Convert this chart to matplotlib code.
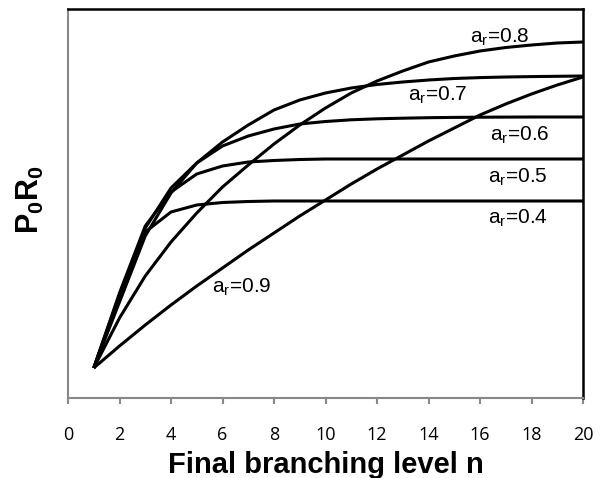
import matplotlib
matplotlib.use('Agg')
import matplotlib.pyplot as plt

plt.rcParams['font.family'] = ['Liberation Sans', 'DejaVu Sans']
plt.rcParams['mathtext.fontset'] = 'custom'
plt.rcParams['mathtext.rm'] = 'Liberation Sans'
plt.rcParams['mathtext.bf'] = 'Liberation Sans:bold'

# branching level n and P0R0 (arbitrary units)
n_levels = list(range(1, 21))
p_ar04 = [30, 103, 166, 186, 193, 195.5, 196.5, 197, 197, 197,
          197, 197, 197, 197, 197, 197, 197, 197, 197, 197]
p_ar05 = [30, 105, 172, 206, 224, 232, 236, 237.5, 238.5, 239,
          239, 239, 239, 239, 239, 239, 239, 239, 239, 239]
p_ar06 = [30, 101, 170, 210, 235, 252, 262, 269, 274, 276.5,
          278.2, 279.2, 279.8, 280.3, 280.6, 280.8, 280.9, 281, 281, 281]
p_ar07 = [30, 96, 162, 205, 235, 256, 273, 288, 298, 305,
          310, 313.5, 316, 318, 319.5, 320.4, 321, 321.4, 321.7, 322]
p_ar08 = [30, 80, 122, 156, 185, 211, 233, 254, 273, 290,
          305, 317, 327, 336, 342, 347, 350.5, 353, 355, 356]
p_ar09 = [30, 52, 73, 93, 112, 130, 148, 165, 182, 198,
          214, 229, 243, 257, 270, 283, 294, 304, 313, 321]

series = [p_ar04, p_ar05, p_ar06, p_ar07, p_ar08, p_ar09]
labels = ['0.4', '0.5', '0.6', '0.7', '0.8', '0.9']
# label anchor (left, baseline) in data coordinates
label_x = [16.3, 16.3, 16.4, 13.2, 15.6, 5.6]
label_y = [175, 216, 258, 298, 356, 106]

fig = plt.figure(figsize=(6.06, 4.78), dpi=100)
ax = fig.add_axes([68 / 606, 1 - 398 / 478, 515 / 606, 389 / 478])

for vals in series:
    ax.plot(n_levels, vals, color='black', linewidth=2.2, solid_capstyle='butt')

for lab, tx, ty in zip(labels, label_x, label_y):
    ax.text(tx, ty, r'a$_\mathrm{r}$=' + lab, fontsize=15, ha='left', va='baseline')

ax.set_xlim(0, 20)
ax.set_ylim(0, 389)
ax.set_xticks(range(0, 21, 2))
ax.set_yticks([])
ax.tick_params(axis='x', direction='out', length=4, width=1.5, color='#888888',
               pad=16, labelsize=13, labelfontfamily='Open Sans')

for side in ['left', 'bottom']:
    ax.spines[side].set_color('#888888')
    ax.spines[side].set_linewidth(1.5)
for side in ['top', 'right']:
    ax.spines[side].set_color('black')
    ax.spines[side].set_linewidth(1.8)

ax.set_xlabel('Final branching level n', fontsize=21, fontweight='bold', va='baseline')
ax.xaxis.set_label_coords(0.5, -0.193)
ax.set_ylabel(r'P$_\mathbf{0}$R$_\mathbf{0}$', fontsize=22, fontweight='bold')
ax.yaxis.set_label_coords(-0.043, 0.509)

fig.savefig('out.png', dpi=100)
